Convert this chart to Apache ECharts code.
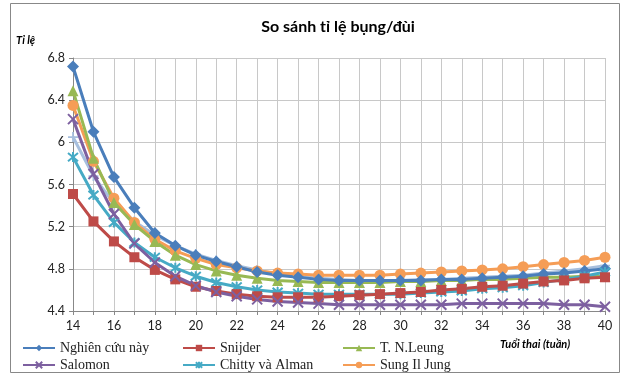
<!DOCTYPE html>
<html><head><meta charset="utf-8">
<script src="https://cdn.jsdelivr.net/npm/echarts@6/dist/echarts.min.js"></script>
<style>html,body{margin:0;padding:0;background:#fff}#c{width:626px;height:379px}</style>
</head><body><div id="c"></div>
<script>
const weeks = [14,15,16,17,18,19,20,21,22,23,24,25,26,27,28,29,30,31,32,33,34,35,36,37,38,39,40];
const nghienCuu = [6.72,6.10,5.67,5.38,5.14,5.02,4.93,4.87,4.82,4.77,4.74,4.72,4.70,4.69,4.69,4.69,4.69,4.69,4.70,4.70,4.71,4.72,4.73,4.75,4.76,4.78,4.80];
const snijder = [5.51,5.25,5.06,4.91,4.79,4.70,4.63,4.59,4.56,4.54,4.53,4.53,4.53,4.54,4.55,4.56,4.57,4.58,4.60,4.61,4.63,4.64,4.66,4.68,4.69,4.71,4.72];
const leung = [6.49,5.85,5.43,5.22,5.06,4.93,4.84,4.78,4.74,4.71,4.69,4.68,4.67,4.67,4.67,4.67,4.68,4.68,4.69,4.69,4.70,4.70,4.71,4.72,4.72,4.73,4.73];
const salomon = [6.22,5.70,5.32,5.04,4.86,4.73,4.64,4.58,4.54,4.51,4.49,4.48,4.47,4.46,4.46,4.46,4.46,4.46,4.46,4.47,4.47,4.47,4.47,4.47,4.46,4.46,4.44];
const chitty = [5.86,5.50,5.24,5.05,4.91,4.81,4.73,4.67,4.63,4.60,4.58,4.57,4.56,4.56,4.56,4.56,4.56,4.57,4.58,4.59,4.61,4.62,4.64,4.67,4.70,4.73,4.77];
const sungIlJung = [6.35,5.82,5.47,5.24,5.08,4.97,4.90,4.84,4.81,4.78,4.76,4.75,4.74,4.74,4.74,4.74,4.75,4.76,4.77,4.78,4.79,4.80,4.82,4.84,4.86,4.88,4.91];
const other = [6.05,5.68,5.42,5.25,5.12,5.02,4.94,4.88,4.83,4.79,4.75,4.73,4.71,4.70,4.69,4.69,4.69,4.70,4.70,4.71,4.72,4.73,4.74,4.76,4.78,4.80,4.83];
const yTicks = [4.4,4.8,5.2,5.6,6,6.4,6.8];

const names = ['Nghiên cứu này','Snijder','T. N.Leung','Salomon','Chitty và Alman','Sung Il Jung'];
const colors = ['#4A7EBB','#BE4B48','#98B954','#7D60A0','#46AAC5','#F59D56'];
const symbols = ['diamond','rect','triangle','path://M-1,-1L1,1M1,-1L-1,1','path://M-1,-1L1,1M1,-1L-1,1M0,-1.2L0,1.2','circle'];
const datas = [nghienCuu,snijder,leung,salomon,chitty,sungIlJung];
const sizes = [12,10,11,10,10,11];

const series = [];
series.push({type:'line',name:'_other',data:other,symbol:'path://M0,-1L0,1M-1,0L1,0',symbolSize:10,
  lineStyle:{width:3,color:'#A7BFDE'},itemStyle:{color:'#A7BFDE',borderColor:'#A7BFDE',borderWidth:1.8},z:2});
const order=[5,2,0,4,1,3];
for (const i of order){
  const isStroke = i===3||i===4;
  series.push({type:'line',name:names[i],data:datas[i],symbol:symbols[i],symbolSize:sizes[i],
    lineStyle:{width:3,color:colors[i]},
    itemStyle: isStroke?{color:'none',borderColor:colors[i],borderWidth:2}:{color:colors[i]},
    z:3});
}
const legendPos=[[22,341],[182,341],[342,341],[22,358],[182,358],[342,358]];
const legends = names.map((n,i)=>({data:[{name:n}],left:legendPos[i][0],top:legendPos[i][1],itemWidth:32,itemHeight:8,
  textStyle:{fontFamily:'Liberation Serif',fontSize:14,color:'#222'},selectedMode:false,padding:0}));

const chart = echarts.init(document.getElementById('c'));
chart.setOption({
  animation:false,
  backgroundColor:'#fff',
  title:{text:'So sánh tỉ lệ bụng/đùi',left:333,top:14,textAlign:'center',textStyle:{fontFamily:'Lato',fontSize:16,fontWeight:'bold',color:'#000'}},
  legend:legends,
  graphic:[
    {type:'rect',shape:{x:10.5,y:3.5,width:609,height:369},style:{fill:'none',stroke:'#888',lineWidth:1}},
    {type:'text',left:16,top:35,style:{text:'Tỉ lệ',font:'italic bold 11px Lato',fill:'#000'}},
    {type:'text',left:500,top:339,style:{text:'Tuổi thai (tuần)',font:'italic bold 11px Lato',fill:'#000'}}
  ],
  grid:{left:73,right:21,top:58,bottom:68},
  xAxis:{type:'category',data:weeks,boundaryGap:false,
    axisLine:{lineStyle:{color:'#888'}},
    axisTick:{show:true,interval:0,lineStyle:{color:'#888'},length:4},
    axisLabel:{interval:1,fontFamily:'Lato',fontSize:12.5,color:'#222',margin:8},
    splitLine:{show:true,interval:0,lineStyle:{color:'#C8C8C8'}}},
  yAxis:{type:'value',min:4.4,max:6.8,interval:0.4,
    axisLine:{show:true,lineStyle:{color:'#888'}},
    axisTick:{show:true,length:4,lineStyle:{color:'#888'}},
    axisLabel:{fontFamily:'Lato',fontSize:12.5,color:'#222',margin:8,formatter:v=>{const t=yTicks.find(x=>Math.abs(x-v)<1e-6);return t===undefined?'':String(t);}},
    splitLine:{lineStyle:{color:'#C8C8C8'}}},
  series
});
</script></body></html>
